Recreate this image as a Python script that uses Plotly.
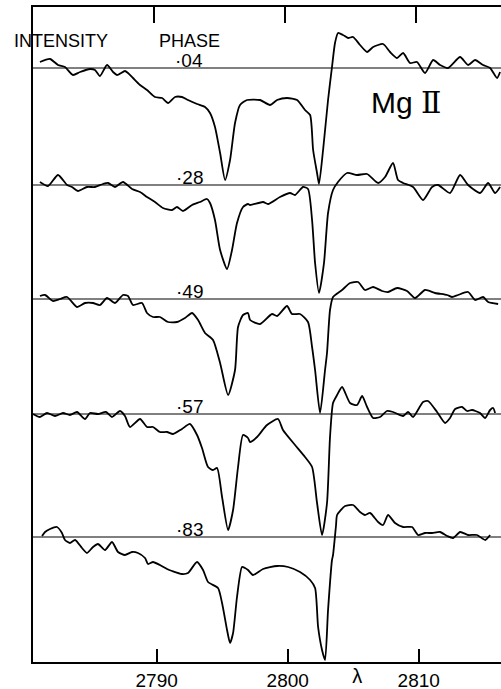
import plotly.graph_objects as go

# ---------------- data ----------------
phases = ["·04", "·28", "·49", "·57", "·83"]
# continuum level (offset) of each phase trace, in intensity units
baselines = [5.94, 4.77, 3.63, 2.48, 1.25]

wl_04 = [2781.09, 2781.86, 2782.47, 2783.00, 2783.61, 2784.15, 2784.91, 2785.29, 2785.67, 2786.21,
         2786.67, 2786.97, 2787.58, 2787.81, 2788.19, 2788.73, 2789.26, 2789.87, 2790.41, 2790.87,
         2791.40, 2791.93, 2792.39, 2793.08, 2793.69, 2794.07, 2794.45, 2794.84, 2795.22, 2795.60,
         2795.98, 2796.36, 2796.90, 2797.89, 2798.65, 2799.19, 2799.95, 2800.72, 2801.32, 2801.71,
         2801.94, 2802.24, 2802.39, 2802.70, 2803.08, 2803.38, 2803.61, 2803.84, 2804.22, 2804.61,
         2804.99, 2805.52, 2806.06, 2806.52, 2807.28, 2807.81, 2808.35, 2808.81, 2809.34, 2809.87,
         2810.48, 2811.10, 2811.63, 2812.24, 2813.16, 2813.77, 2814.30, 2814.91, 2815.45, 2815.98,
         2816.21]
int_04 = [0.06, 0.09, 0.03, 0.01, -0.07, -0.04, -0.01, -0.02, -0.08, 0.03,
          -0.04, -0.07, -0.03, -0.05, -0.10, -0.17, -0.22, -0.29, -0.30, -0.35,
          -0.29, -0.29, -0.32, -0.36, -0.39, -0.45, -0.59, -0.85, -1.12, -0.92,
          -0.55, -0.37, -0.32, -0.32, -0.37, -0.32, -0.30, -0.32, -0.42, -0.47,
          -0.82, -1.05, -1.16, -0.82, -0.32, 0.01, 0.25, 0.35, 0.33, 0.30,
          0.31, 0.23, 0.16, 0.21, 0.24, 0.16, 0.10, 0.15, 0.05, 0.06,
          -0.05, 0.08, 0.03, 0.00, 0.11, 0.03, 0.08, 0.03, 0.00, -0.10,
          -0.04]

wl_28 = [2781.09, 2781.71, 2782.47, 2783.16, 2783.54, 2783.99, 2784.68, 2785.29, 2785.90, 2786.29,
         2786.82, 2787.43, 2788.12, 2788.73, 2789.26, 2789.87, 2790.48, 2791.17, 2791.55, 2792.01,
         2792.70, 2793.31, 2793.84, 2794.07, 2794.45, 2794.84, 2795.37, 2795.75, 2796.13, 2796.59,
         2796.97, 2797.13, 2798.12, 2798.50, 2799.41, 2800.18, 2800.56, 2801.17, 2801.55, 2801.86,
         2802.09, 2802.39, 2802.77, 2803.08, 2803.46, 2803.84, 2804.53, 2805.29, 2806.06, 2806.90,
         2807.43, 2808.04, 2808.42, 2808.81, 2809.57, 2810.33, 2811.02, 2811.48, 2812.39, 2813.16,
         2813.77, 2814.68, 2815.30, 2815.83, 2816.21]
int_28 = [0.03, -0.01, 0.10, 0.00, -0.02, -0.06, -0.02, -0.02, 0.01, 0.02,
          -0.02, 0.03, -0.04, -0.07, -0.12, -0.17, -0.23, -0.25, -0.22, -0.26,
          -0.20, -0.17, -0.14, -0.18, -0.35, -0.65, -0.84, -0.65, -0.38, -0.22,
          -0.19, -0.20, -0.17, -0.19, -0.12, -0.08, -0.10, -0.02, -0.04, -0.35,
          -0.78, -1.08, -0.78, -0.28, -0.05, 0.03, 0.12, 0.10, 0.11, 0.02,
          0.08, 0.22, 0.05, 0.02, -0.02, -0.15, -0.02, 0.00, -0.08, 0.10,
          0.00, -0.08, 0.02, -0.08, -0.02]

wl_49 = [2781.09, 2781.48, 2782.09, 2782.62, 2783.16, 2783.92, 2784.53, 2785.14, 2785.67, 2786.21,
         2786.82, 2787.43, 2787.81, 2788.19, 2788.88, 2789.26, 2789.72, 2790.25, 2790.87, 2791.55,
         2792.16, 2792.70, 2793.16, 2793.69, 2794.30, 2794.84, 2795.45, 2795.98, 2796.21, 2796.59,
         2796.97, 2797.13, 2797.89, 2798.80, 2799.19, 2799.95, 2800.33, 2800.94, 2801.55, 2801.86,
         2802.09, 2802.47, 2802.85, 2803.00, 2803.23, 2803.46, 2804.15, 2804.76, 2805.37, 2805.90,
         2806.52, 2807.20, 2807.66, 2808.35, 2809.11, 2809.72, 2810.48, 2811.25, 2812.17, 2812.55,
         2813.00, 2813.77, 2814.30, 2814.91, 2815.30, 2816.06]
int_49 = [0.03, 0.04, -0.02, 0.00, 0.02, -0.08, -0.04, -0.04, -0.06, 0.01,
          -0.04, 0.04, 0.03, -0.06, -0.04, -0.14, -0.18, -0.18, -0.23, -0.23,
          -0.19, -0.14, -0.21, -0.34, -0.41, -0.64, -0.96, -0.71, -0.28, -0.16,
          -0.14, -0.21, -0.25, -0.15, -0.17, -0.07, -0.15, -0.15, -0.23, -0.48,
          -0.71, -1.14, -0.71, -0.54, -0.11, 0.02, 0.09, 0.16, 0.17, 0.09,
          0.12, 0.08, 0.07, 0.11, 0.08, 0.01, 0.09, 0.06, 0.04, 0.02,
          0.04, 0.07, -0.01, 0.02, -0.03, -0.05]

wl_57 = [2780.56, 2781.09, 2781.63, 2782.24, 2782.85, 2783.38, 2783.92, 2784.53, 2784.91, 2785.52,
         2786.13, 2786.59, 2787.20, 2787.58, 2787.96, 2788.73, 2789.26, 2789.72, 2790.25, 2790.79,
         2791.25, 2791.93, 2792.54, 2793.08, 2793.46, 2793.92, 2794.30, 2794.61, 2794.99, 2795.45,
         2795.83, 2796.21, 2796.59, 2796.97, 2797.13, 2797.66, 2798.42, 2799.26, 2799.64, 2800.56,
         2801.32, 2801.86, 2802.24, 2802.62, 2803.00, 2803.23, 2803.46, 2803.77, 2804.15, 2804.76,
         2805.29, 2805.68, 2806.06, 2806.52, 2807.05, 2807.58, 2808.04, 2808.81, 2809.19, 2809.57,
         2810.33, 2810.71, 2811.40, 2812.01, 2812.39, 2812.78, 2813.31, 2813.69, 2814.07, 2814.68,
         2815.07, 2815.45, 2815.68, 2815.83]
int_57 = [0.00, -0.03, 0.01, -0.02, 0.01, -0.01, 0.02, -0.05, 0.01, 0.00,
          0.02, -0.03, 0.03, -0.02, -0.13, -0.05, -0.13, -0.13, -0.18, -0.18,
          -0.20, -0.15, -0.10, -0.21, -0.34, -0.53, -0.56, -0.54, -0.83, -1.16,
          -0.96, -0.53, -0.21, -0.24, -0.28, -0.23, -0.11, -0.05, -0.16, -0.31,
          -0.43, -0.53, -0.89, -1.21, -0.89, -0.23, 0.11, 0.19, 0.27, 0.11,
          0.09, 0.18, 0.07, -0.04, -0.03, 0.03, 0.02, -0.02, 0.02, -0.03,
          0.12, 0.13, 0.02, -0.09, -0.04, 0.05, 0.07, 0.03, 0.04, 0.01,
          -0.04, 0.04, 0.06, 0.01]

wl_83 = [2781.25, 2781.48, 2781.86, 2782.39, 2782.77, 2783.00, 2783.38, 2783.77, 2784.30, 2784.68,
         2785.14, 2785.52, 2786.06, 2786.59, 2787.05, 2787.58, 2788.12, 2788.57, 2789.11, 2789.34,
         2789.72, 2790.25, 2790.79, 2791.17, 2791.93, 2792.39, 2793.08, 2793.54, 2793.92, 2794.68,
         2794.99, 2795.37, 2795.60, 2795.83, 2796.13, 2796.51, 2796.74, 2796.97, 2797.35, 2798.12,
         2799.19, 2800.03, 2800.94, 2801.71, 2802.09, 2802.32, 2802.62, 2802.85, 2803.08, 2803.38,
         2803.46, 2803.69, 2803.77, 2804.38, 2804.99, 2805.52, 2805.90, 2806.29, 2806.90, 2807.28,
         2807.66, 2808.19, 2808.81, 2809.49, 2809.95, 2810.48, 2811.02, 2811.63, 2812.17, 2812.62,
         2813.16, 2813.77, 2814.45, 2815.07, 2815.45]
int_83 = [0.01, 0.05, 0.08, 0.10, 0.04, -0.03, -0.06, -0.03, -0.11, -0.16,
          -0.10, -0.07, -0.13, -0.05, -0.15, -0.18, -0.15, -0.16, -0.21, -0.27,
          -0.25, -0.28, -0.32, -0.34, -0.37, -0.36, -0.25, -0.33, -0.45, -0.51,
          -0.66, -0.93, -1.06, -0.96, -0.60, -0.30, -0.31, -0.33, -0.38, -0.32,
          -0.29, -0.30, -0.35, -0.43, -0.51, -0.90, -1.13, -1.23, -0.73, -0.23,
          -0.18, 0.12, 0.22, 0.31, 0.32, 0.25, 0.22, 0.24, 0.15, 0.12,
          0.22, 0.14, 0.10, 0.10, 0.02, 0.04, 0.04, 0.05, 0.01, -0.01,
          0.05, 0.02, 0.02, -0.03, 0.02]

tick_vals = [2790, 2800, 2810]
tick_text = ["2790", "2800", "2810"]
lambda_pos = [2805.3]
lambda_text = ["λ"]

spectra_wl = [wl_04, wl_28, wl_49, wl_57, wl_83]
spectra_int = [int_04, int_28, int_49, int_57, int_83]

# ---------------- figure ----------------
FONT = "Liberation Sans, Arial, sans-serif"
XR = [2780.56, 2816.28]
fig = go.Figure()

for wl, inten, base in zip(spectra_wl, spectra_int, baselines):
    fig.add_trace(go.Scatter(
        x=wl, y=[base + v for v in inten], mode="lines",
        line=dict(color="black", width=1.8, shape="spline", smoothing=0.6),
        hoverinfo="skip", showlegend=False))

for base, ph in zip(baselines, phases):
    fig.add_shape(type="line", xref="paper", x0=0, x1=1, yref="y", y0=base, y1=base,
                  line=dict(color="black", width=1))
    fig.add_annotation(x=2792.5, y=base - 0.035, xref="x", yref="y", text=ph,
                       yanchor="bottom", borderpad=0,
                       showarrow=False, font=dict(size=19, color="black", family=FONT))

fig.add_annotation(x=2782.70, y=6.215, xref="x", yref="y", text="INTENSITY",
                   showarrow=False, borderpad=0, font=dict(size=18, color="black", family=FONT))
fig.add_annotation(x=2792.47, y=6.215, xref="x", yref="y", text="PHASE",
                   showarrow=False, borderpad=0, font=dict(size=18, color="black", family=FONT))
fig.add_annotation(x=2809.05, y=5.60, xref="x", yref="y",
                   text="Mg <span style='font-family:DejaVu Serif'>Ⅱ</span>",
                   showarrow=False, font=dict(size=30, color="black", family=FONT))

fig.update_layout(
    template="none",
    width=501, height=689,
    margin=dict(l=33, r=0, t=7, b=27, autoexpand=False),
    paper_bgcolor="white", plot_bgcolor="white",
    showlegend=False,
)
fig.update_layout(
    xaxis=dict(
        range=XR, tickvals=tick_vals, ticktext=tick_text, automargin=False,
        ticks="inside", ticklen=13, tickwidth=1.5, tickcolor="black",
        showline=True, linewidth=2, linecolor="black", mirror=True,
        showgrid=False, zeroline=False, ticklabelstandoff=0,
        tickfont=dict(size=19, color="black", family=FONT),
    ),
    # top frame ticks (slightly skewed in the scanned original)
    xaxis2=dict(
        overlaying="x", side="top", anchor="y", automargin=False,
        range=[XR[0] + 0.23, XR[1] + 0.23], tickvals=tick_vals, showticklabels=False,
        ticks="inside", ticklen=16, tickwidth=1.5, tickcolor="black",
        showline=False, showgrid=False, zeroline=False,
    ),
    # wavelength symbol under the axis
    xaxis3=dict(
        overlaying="x", side="bottom", anchor="y", automargin=False,
        range=XR, tickvals=lambda_pos, ticktext=lambda_text, ticks="",
        showline=False, showgrid=False, zeroline=False, ticklabelstandoff=0,
        tickfont=dict(size=20, color="black", family=FONT),
    ),
    yaxis=dict(
        range=[0, 6.55], showline=True, linewidth=2, linecolor="black", mirror=False,
        automargin=False, showticklabels=False, ticks="", showgrid=False, zeroline=False,
    ),
)
# invisible traces to activate the extra axes
for ax in ["x2", "x3"]:
    fig.add_trace(go.Scatter(x=[2790], y=[0], xaxis=ax, yaxis="y", mode="markers",
                             marker=dict(opacity=0), hoverinfo="skip", showlegend=False))

fig.write_html("out.html")
